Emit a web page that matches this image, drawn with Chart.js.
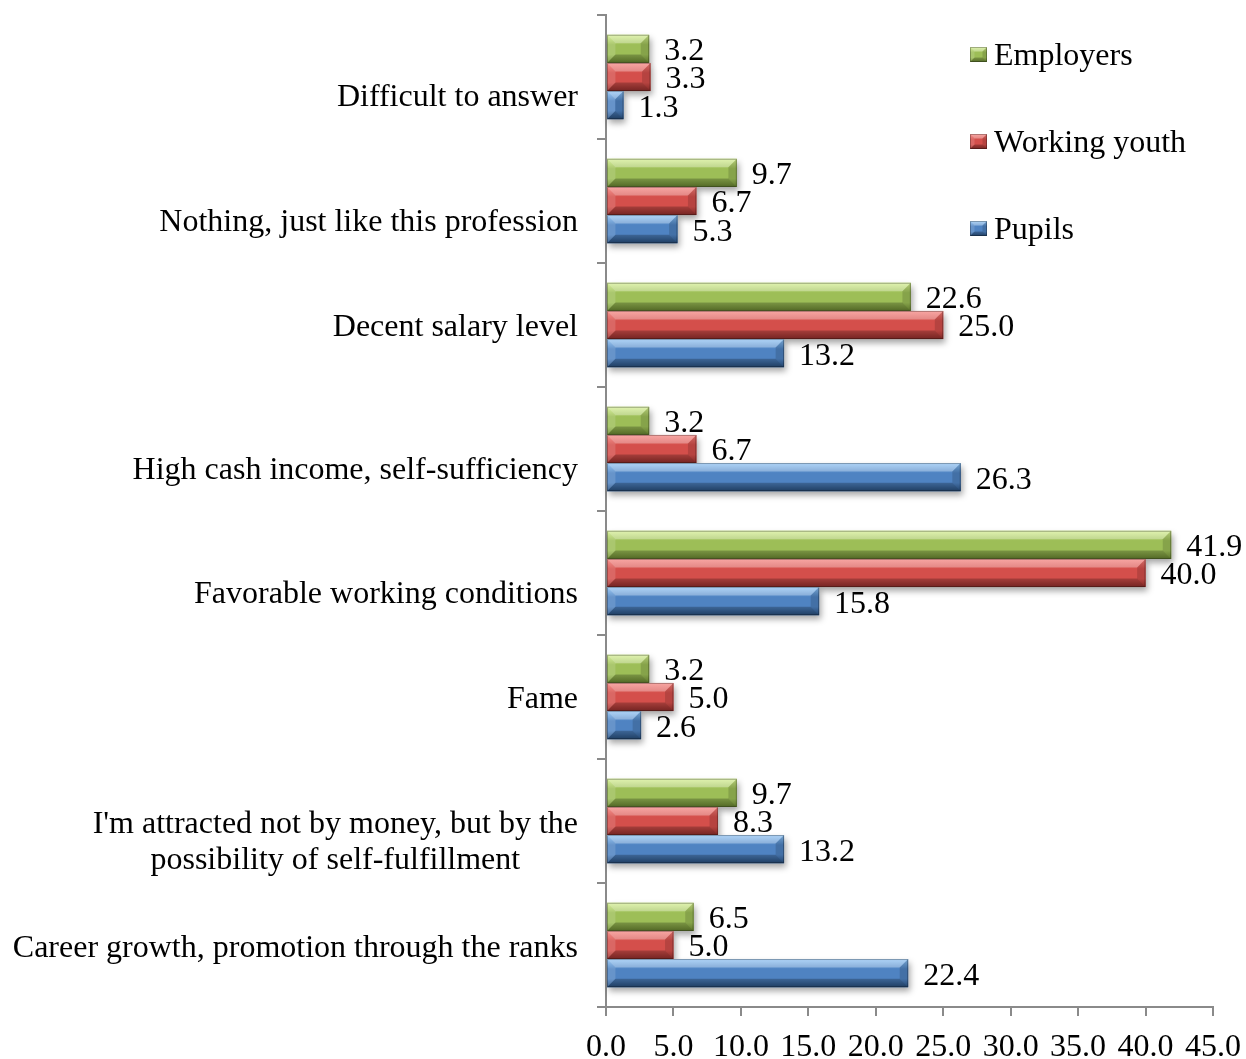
<!DOCTYPE html>
<html>
<head>
<meta charset="utf-8">
<title>Motives for choosing a profession</title>
<script src="https://cdn.jsdelivr.net/npm/chart.js@4/dist/chart.umd.min.js"></script>
<style>
  html, body { margin: 0; padding: 0; background: #ffffff; }
  #wrap { width: 1246px; height: 1059px; }
</style>
</head>
<body>
<div id="wrap"><canvas id="chart" width="1246" height="1059"></canvas></div>
<script>
// ---- data ----
const categories = [
  'Difficult to answer',
  'Nothing, just like this profession',
  'Decent salary level',
  'High cash income, self-sufficiency',
  'Favorable working conditions',
  'Fame',
  ["I'm attracted not by money, but by the", 'possibility of self-fulfillment'],
  'Career growth, promotion through the ranks'
];
const seriesNames = ['Employers', 'Working youth', 'Pupils'];
const employers    = [3.2, 9.7, 22.6, 3.2, 41.9, 3.2, 9.7, 6.5];
const workingYouth = [3.3, 6.7, 25.0, 6.7, 40.0, 5.0, 8.3, 5.0];
const pupils       = [1.3, 5.3, 13.2, 26.3, 15.8, 2.6, 13.2, 22.4];
const xMin = 0, xMax = 45, xStep = 5;

// ---- style ----
const FONT = "'Liberation Serif', 'Times New Roman', serif";
const FONT_SIZE = 32;
const AXIS_GREY = '#8a8a8a';
const palettes = [
  { light: '#d3ee8e', mid: '#9dbe57', dark: '#6b8832' },   // green
  { light: '#f6807b', mid: '#d44f4b', dark: '#952f2c' },   // red
  { light: '#8cc2f4', mid: '#4f83c2', dark: '#29507f' }    // blue
];
// vertical nudge of category captions relative to the category centre
const captionNudge = [18, 19, 0, 19, 19, 0, 19, 1];

function bevelRect(ctx, x0, yT, x1, yB, pal) {
  const w = x1 - x0, h = yB - yT;
  if (w <= 0 || h <= 0) return;
  const g = ctx.createLinearGradient(0, yT, 0, yB);
  g.addColorStop(0, pal.light);
  g.addColorStop(0.35, pal.mid);
  g.addColorStop(0.7, pal.mid);
  g.addColorStop(1, pal.dark);
  ctx.fillStyle = g;
  ctx.fillRect(x0, yT, w, h);
  const b = Math.min(h * 0.3, w / 2);
  // top facet
  ctx.fillStyle = 'rgba(255,255,255,0.3)';
  ctx.beginPath();
  ctx.moveTo(x0, yT); ctx.lineTo(x1, yT); ctx.lineTo(x1 - b, yT + b); ctx.lineTo(x0 + b, yT + b);
  ctx.closePath(); ctx.fill();
  // bottom facet
  ctx.fillStyle = 'rgba(0,0,0,0.22)';
  ctx.beginPath();
  ctx.moveTo(x0, yB); ctx.lineTo(x1, yB); ctx.lineTo(x1 - b, yB - b); ctx.lineTo(x0 + b, yB - b);
  ctx.closePath(); ctx.fill();
  // left facet
  ctx.fillStyle = 'rgba(255,255,255,0.14)';
  ctx.beginPath();
  ctx.moveTo(x0, yT); ctx.lineTo(x0 + b, yT + b); ctx.lineTo(x0 + b, yB - b); ctx.lineTo(x0, yB);
  ctx.closePath(); ctx.fill();
  // right facet
  ctx.fillStyle = 'rgba(0,0,0,0.14)';
  ctx.beginPath();
  ctx.moveTo(x1, yT); ctx.lineTo(x1 - b, yT + b); ctx.lineTo(x1 - b, yB - b); ctx.lineTo(x1, yB);
  ctx.closePath(); ctx.fill();
  // outline
  ctx.strokeStyle = 'rgba(0,0,0,0.28)';
  ctx.lineWidth = 1;
  ctx.strokeRect(x0 + 0.5, yT + 0.5, w - 1, h - 1);
}

function barGeom(el) {
  const p = el.getProps(['x', 'y', 'base', 'height'], true);
  const x0 = Math.min(p.base, p.x), x1 = Math.max(p.base, p.x);
  return { x0, x1, yT: p.y - p.height / 2, yB: p.y + p.height / 2, y: p.y };
}

// soft shadows under the bars, then beveled bar faces on top
const bevelBars = {
  id: 'bevelBars',
  beforeDatasetsDraw(chart) {
    const ctx = chart.ctx;
    ctx.save();
    ctx.filter = 'blur(3px)';
    ctx.fillStyle = 'rgba(0,0,0,0.35)';
    chart.data.datasets.forEach((ds, di) => {
      chart.getDatasetMeta(di).data.forEach(el => {
        const g = barGeom(el);
        ctx.fillRect(g.x0 + 2, g.yT + 4, g.x1 - g.x0, g.yB - g.yT);
      });
    });
    ctx.restore();
  },
  afterDatasetsDraw(chart) {
    const ctx = chart.ctx;
    ctx.save();
    chart.data.datasets.forEach((ds, di) => {
      chart.getDatasetMeta(di).data.forEach(el => {
        const g = barGeom(el);
        bevelRect(ctx, g.x0, g.yT, g.x1, g.yB, palettes[di]);
      });
    });
    // value labels
    ctx.font = FONT_SIZE + 'px ' + FONT;
    ctx.fillStyle = '#000';
    ctx.textAlign = 'left';
    ctx.textBaseline = 'middle';
    chart.data.datasets.forEach((ds, di) => {
      chart.getDatasetMeta(di).data.forEach((el, i) => {
        const g = barGeom(el);
        ctx.fillText(ds.data[i].toFixed(1), g.x1 + 15, g.y + 3);
      });
    });
    ctx.restore();
  }
};

// category captions: right aligned, wrapped captions centred as a block
const captions = {
  id: 'captions',
  afterDraw(chart) {
    const ctx = chart.ctx;
    const y = chart.scales.y;
    const right = chart.chartArea.left - 28;
    const lh = 36;
    ctx.save();
    ctx.font = FONT_SIZE + 'px ' + FONT;
    ctx.fillStyle = '#000';
    ctx.textBaseline = 'middle';
    categories.forEach((lab, i) => {
      const cy = y.getPixelForValue(i) + captionNudge[i] + 3;
      const lines = Array.isArray(lab) ? lab : [lab];
      const maxW = Math.max(...lines.map(l => ctx.measureText(l).width));
      const cx = right - maxW / 2;
      lines.forEach((l, k) => {
        const ly = cy + (k - (lines.length - 1) / 2) * lh;
        if (lines.length === 1) { ctx.textAlign = 'right'; ctx.fillText(l, right, ly); }
        else { ctx.textAlign = 'center'; ctx.fillText(l, cx, ly); }
      });
    });
    ctx.restore();
  }
};

// legend column in the upper right of the plot
const sideLegend = {
  id: 'sideLegend',
  afterDraw(chart) {
    const ctx = chart.ctx;
    const a = chart.chartArea;
    const x = a.right - 243;
    ctx.save();
    ctx.font = FONT_SIZE + 'px ' + FONT;
    ctx.textAlign = 'left';
    ctx.textBaseline = 'middle';
    seriesNames.forEach((name, i) => {
      const cy = a.top + 40 + i * 87;
      bevelRect(ctx, x, cy - 8, x + 17, cy + 7, palettes[i]);
      ctx.fillStyle = '#000';
      ctx.fillText(name, x + 24, cy + 2);
    });
    ctx.restore();
  }
};

new Chart(document.getElementById('chart'), {
  type: 'bar',
  data: {
    labels: categories,
    datasets: [
      { label: seriesNames[0], data: employers,    backgroundColor: palettes[0].mid },
      { label: seriesNames[1], data: workingYouth, backgroundColor: palettes[1].mid },
      { label: seriesNames[2], data: pupils,       backgroundColor: palettes[2].mid }
    ]
  },
  options: {
    indexAxis: 'y',
    responsive: false,
    animation: false,
    devicePixelRatio: 1,
    layout: { padding: { top: 15, right: 33, left: 0, bottom: 0 } },
    datasets: { bar: { categoryPercentage: 0.68, barPercentage: 1.0, borderWidth: 0 } },
    plugins: {
      legend: { display: false },
      tooltip: { enabled: false }
    },
    scales: {
      x: {
        min: xMin, max: xMax,
        ticks: {
          stepSize: xStep,
          color: '#000',
          font: { family: FONT, size: FONT_SIZE },
          padding: 12,
          maxRotation: 0,
          callback: v => Number(v).toFixed(1)
        },
        grid: { drawOnChartArea: false, tickLength: 9, color: AXIS_GREY, lineWidth: 2 },
        border: { color: AXIS_GREY, width: 2 },
        afterFit(s) { s.height = 52; s.paddingLeft = 0; s.paddingRight = 0; }
      },
      y: {
        offset: true,
        ticks: { display: false },
        grid: { drawOnChartArea: false, offset: true, tickLength: 9, color: AXIS_GREY, lineWidth: 2 },
        border: { color: AXIS_GREY, width: 2 },
        afterFit(s) { s.width = 606; s.paddingTop = 0; s.paddingBottom = 0; }
      }
    }
  },
  plugins: [bevelBars, captions, sideLegend]
});
</script>
</body>
</html>
